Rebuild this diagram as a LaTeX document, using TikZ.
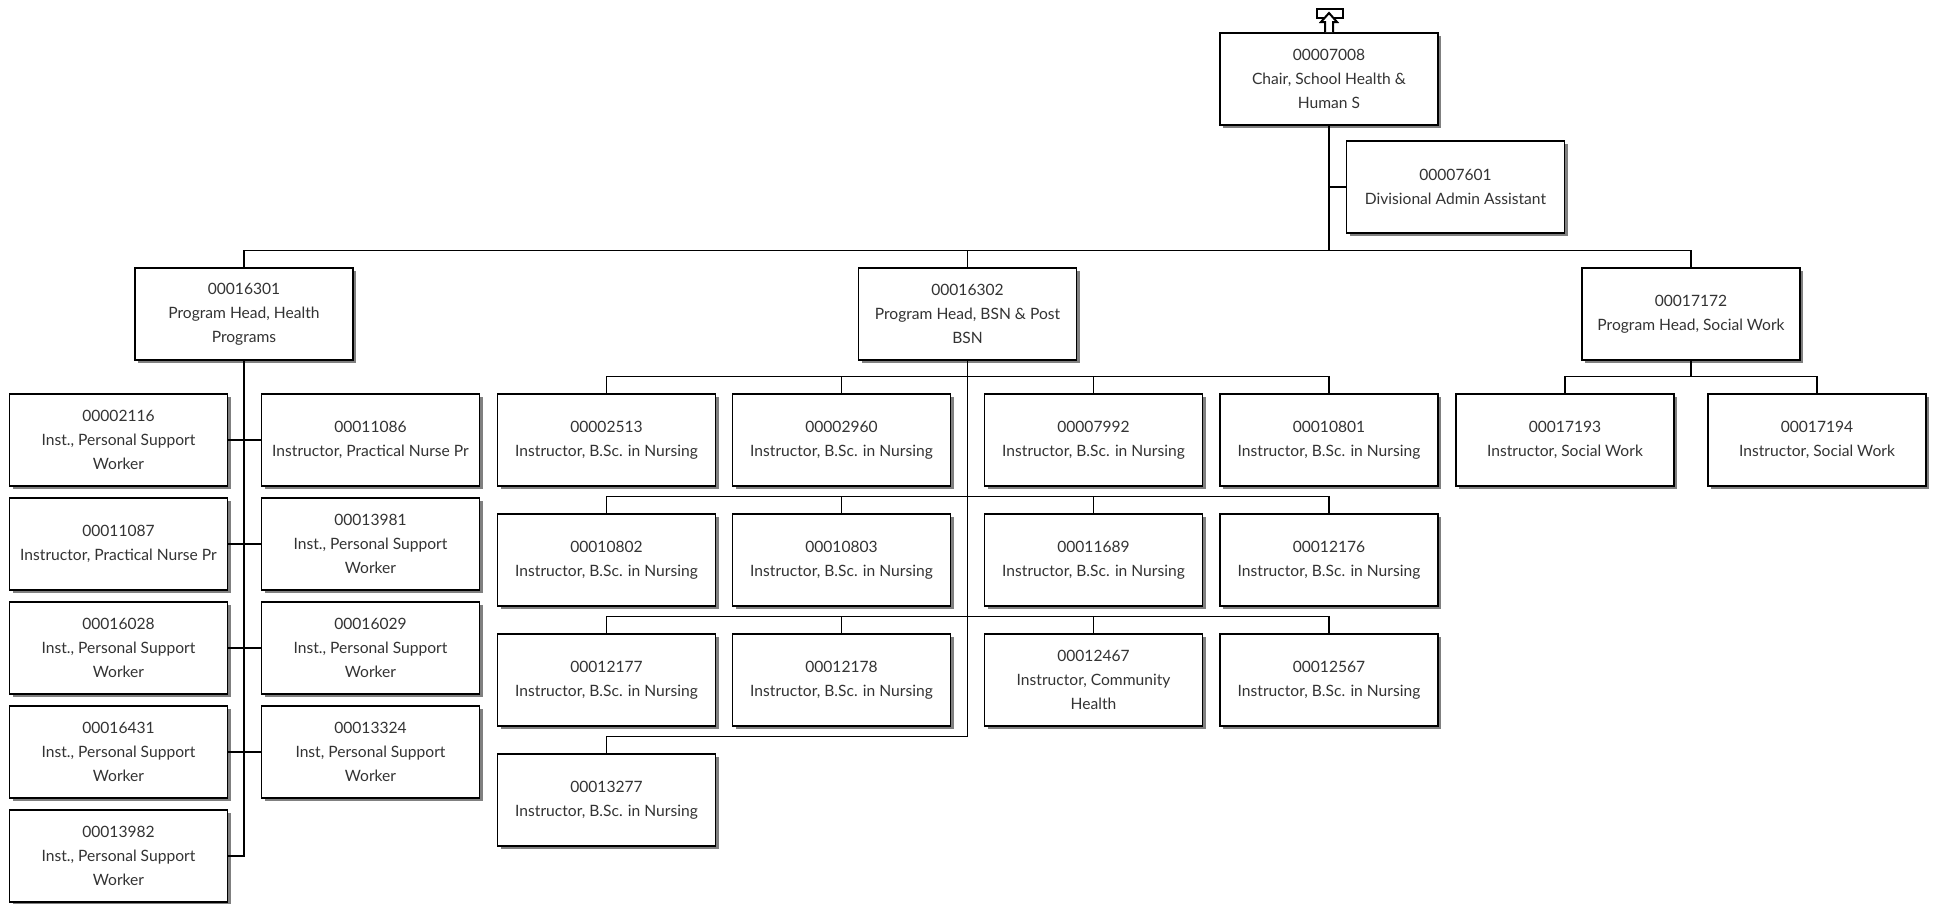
\documentclass[tikz,border=0pt]{standalone}
\usepackage{fontspec}
\setmainfont{Lato}
\usetikzlibrary{shadows}

\begin{document}
\begin{tikzpicture}[x=1pt, y=-1pt,
  post/.style={draw, line width=1.4pt, fill=white, minimum width=218pt, minimum height=92pt,
    inner sep=0pt, align=center, text=black!80, font=\fontsize{15.6}{24}\selectfont,
    drop shadow={shadow xshift=3pt, shadow yshift=-3pt, fill=black!50, opacity=1}},
  link/.style={line width=1.3pt}]
  \useasboundingbox (0,0) rectangle (1937,903);
  % top of the tree
  \node[post] (p00007008) at (1329,79) {00007008\\Chair, School Health \&\\Human S};
  \node[post] (p00007601) at (1455.5,187) {00007601\\Divisional Admin Assistant};
  \node[post] (p00016301) at (244,314) {00016301\\Program Head, Health\\Programs};
  \node[post] (p00016302) at (967.5,314) {00016302\\Program Head, BSN \& Post\\BSN};
  \node[post] (p00017172) at (1691,314) {00017172\\Program Head, Social Work};
  \draw[link] (p00007601.west) -| (p00007008.south);
  \foreach \p in {00016301,00016302,00017172}
    \draw[link] (p\p.north) -- ++(0,-17) -| (p00007008.south);
  % marker above the chair
  \draw[line width=2pt, fill=white] (1317,9) rectangle (1343,18);
  \draw[line width=2pt, fill=white] (1325,32) -- (1325,22) -- (1321,22) -- (1329,13)
    -- (1337,22) -- (1333,22) -- (1333,32);
  % health programs
  \foreach \id/\y/\txt in {00002116/440/{Inst., Personal Support\\Worker},
      00011087/544/{Instructor, Practical Nurse Pr},
      00016028/648/{Inst., Personal Support\\Worker},
      00016431/752/{Inst., Personal Support\\Worker},
      00013982/856/{Inst., Personal Support\\Worker}}
  {
    \node[post] (p\id) at (118.5,\y) {\id\\\txt};
    \draw[link] (p\id.east) -| (p00016301.south);
  }
  \foreach \id/\y/\txt in {00011086/440/{Instructor, Practical Nurse Pr},
      00013981/544/{Inst., Personal Support\\Worker},
      00016029/648/{Inst., Personal Support\\Worker},
      00013324/752/{Inst, Personal Support\\Worker}}
  {
    \node[post] (p\id) at (370.5,\y) {\id\\\txt};
    \draw[link] (p\id.west) -| (p00016301.south);
  }
  % BSN
  \foreach \id/\x/\y/\txt in {00002513/606.5/440/{Instructor, B.Sc. in Nursing},
      00002960/841.5/440/{Instructor, B.Sc. in Nursing},
      00007992/1093.5/440/{Instructor, B.Sc. in Nursing},
      00010801/1329/440/{Instructor, B.Sc. in Nursing},
      00010802/606.5/560/{Instructor, B.Sc. in Nursing},
      00010803/841.5/560/{Instructor, B.Sc. in Nursing},
      00011689/1093.5/560/{Instructor, B.Sc. in Nursing},
      00012176/1329/560/{Instructor, B.Sc. in Nursing},
      00012177/606.5/680/{Instructor, B.Sc. in Nursing},
      00012178/841.5/680/{Instructor, B.Sc. in Nursing},
      00012467/1093.5/680/{Instructor, Community\\Health},
      00012567/1329/680/{Instructor, B.Sc. in Nursing},
      00013277/606.5/800/{Instructor, B.Sc. in Nursing}}
  {
    \node[post] (p\id) at (\x,\y) {\id\\\txt};
    \draw[link] (p\id.north) -- ++(0,-17) -| (p00016302.south);
  }
  % social work
  \foreach \id/\x in {00017193/1565,00017194/1817}
  {
    \node[post] (p\id) at (\x,440) {\id\\Instructor, Social Work};
    \draw[link] (p\id.north) -- ++(0,-17) -| (p00017172.south);
  }
\end{tikzpicture}
\end{document}
